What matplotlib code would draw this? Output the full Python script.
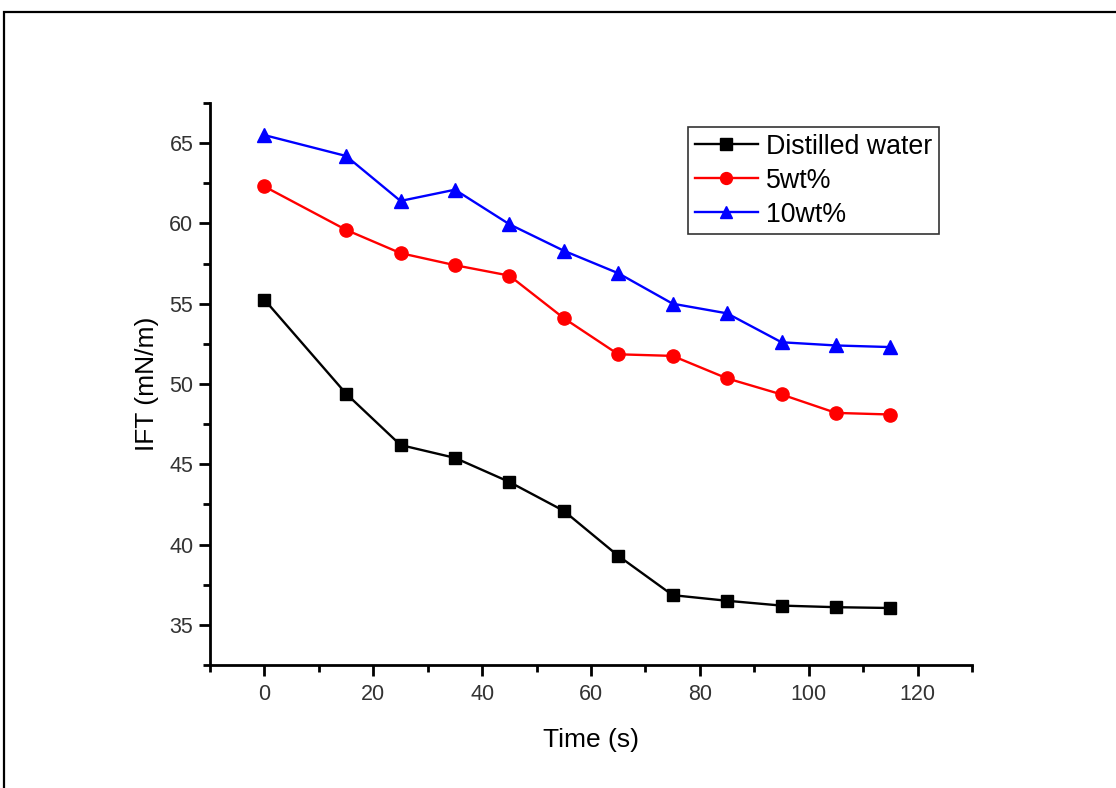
import matplotlib
matplotlib.use("Agg")
import matplotlib.pyplot as plt
from matplotlib.patches import Rectangle
from matplotlib.ticker import MultipleLocator

plt.rcParams['font.family'] = ['Liberation Sans', 'DejaVu Sans']

time_s = [0, 15, 25, 35, 45, 55, 65, 75, 85, 95, 105, 115]
distilled = [55.25, 49.4, 46.2, 45.4, 43.9, 42.1, 39.3, 36.85, 36.5, 36.2, 36.1, 36.05]
wt5 = [62.3, 59.6, 58.15, 57.4, 56.75, 54.1, 51.85, 51.75, 50.35, 49.35, 48.2, 48.1]
wt10 = [65.5, 64.2, 61.4, 62.1, 59.95, 58.3, 56.9, 55.0, 54.4, 52.6, 52.4, 52.3]
series_names = ["Distilled water", "5wt%", "10wt%"]

W, H = 1116, 788
fig = plt.figure(figsize=(W / 100, H / 100), dpi=100)

# outer frame
fig.patches.append(Rectangle((4 / W, -0.05), 1.2, 1 - 12 / H + 0.05, transform=fig.transFigure,
                             fill=False, edgecolor='black', linewidth=1.6))

ax = fig.add_axes([210 / W, 1 - 665 / H, (972 - 210) / W, (665 - 103) / H])

ax.plot(time_s, distilled, color='black', marker='s', markersize=9, linewidth=1.7, label=series_names[0])
ax.plot(time_s, wt5, color='red', marker='o', markersize=9.5, linewidth=1.7, label=series_names[1])
ax.plot(time_s, wt10, color='blue', marker='^', markersize=10, linewidth=1.7, label=series_names[2])

ax.set_xlim(-10, 130)
ax.set_ylim(32.5, 67.5)
ax.xaxis.set_major_locator(MultipleLocator(20))
ax.xaxis.set_minor_locator(MultipleLocator(10))
ax.yaxis.set_major_locator(MultipleLocator(5))
ax.yaxis.set_minor_locator(MultipleLocator(2.5))

for s in ['top', 'right']:
    ax.spines[s].set_visible(False)
for s in ['left', 'bottom']:
    ax.spines[s].set_linewidth(2)
ax.tick_params(which='major', direction='out', length=8, width=2, labelsize=15.5, labelcolor='#333333')
ax.tick_params(axis='y', which='major', pad=4)
ax.tick_params(axis='x', which='major', pad=6)
ax.tick_params(which='minor', direction='out', length=5, width=2)

ax.set_xlabel("Time (s)", fontsize=19, labelpad=16)
ax.set_ylabel("IFT (mN/m)", fontsize=19, labelpad=7)

leg = ax.legend(loc='upper left', bbox_to_anchor=(688 / W, 1 - 127 / H), bbox_transform=fig.transFigure,
                fontsize=19.3, frameon=True, fancybox=False, borderaxespad=0, handlelength=2.35,
                handletextpad=0.3, borderpad=0.25, labelspacing=0.3, markerscale=0.9)
leg.get_frame().set_edgecolor('black')
leg.get_frame().set_linewidth(1.2)

fig.savefig("out.png", dpi=100)
